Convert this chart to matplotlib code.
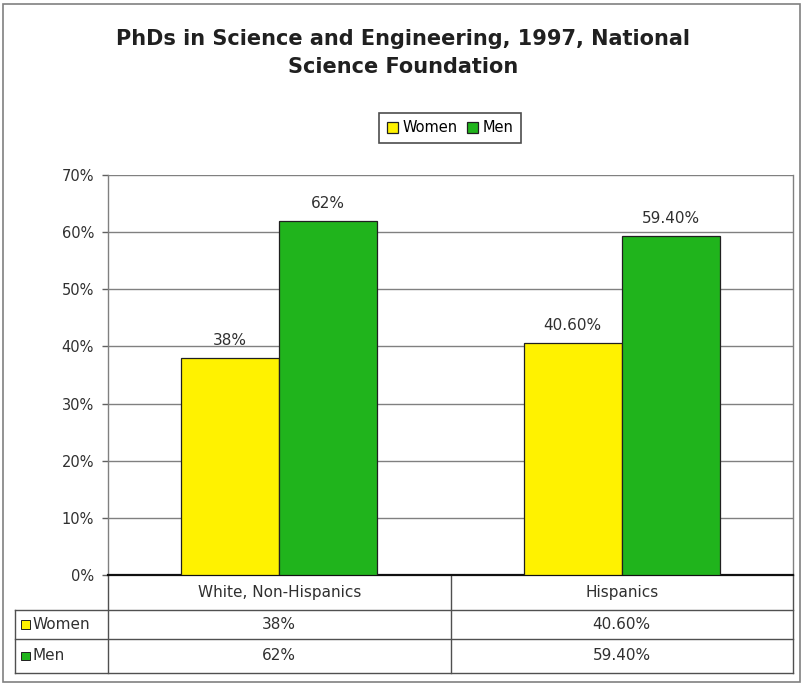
import matplotlib.pyplot as plt
import matplotlib.transforms as mtransforms
from matplotlib.patches import Rectangle
import numpy as np

plt.rcParams['font.family'] = ['DejaVu Sans']

# Data
categories = ["White, Non-Hispanics", "Hispanics"]
series_names = ["Women", "Men"]
women = [38.0, 40.6]
men = [62.0, 59.4]
women_labels = ["38%", "40.60%"]
men_labels = ["62%", "59.40%"]
yticks = [0, 10, 20, 30, 40, 50, 60, 70]

YELLOW = "#FFF200"
GREEN = "#20B41C"
W, H = 807, 685

fig = plt.figure(figsize=(W / 100, H / 100), dpi=100)
fig.patch.set_facecolor("white")

# outer border
fig.patches.append(Rectangle((3 / W, 1 - 682 / H), 797 / W, 678 / H,
                             transform=fig.transFigure, fill=False,
                             edgecolor="#808080", linewidth=1.2))

ax = fig.add_axes([108 / W, 1 - 575 / H, (793 - 108) / W, 400 / H])
x = np.arange(len(categories))
bw = 0.286
ax.bar(x - bw / 2, women, bw, color=YELLOW, edgecolor="#202020", linewidth=0.9,
       label=series_names[0], zorder=3)
ax.bar(x + bw / 2, men, bw, color=GREEN, edgecolor="#202020", linewidth=0.9,
       label=series_names[1], zorder=3)

for xi, v, t in zip(x - bw / 2, women, women_labels):
    ax.text(xi, v + 1.7, t, ha="center", va="bottom", fontsize=11, color="#303030")
for xi, v, t in zip(x + bw / 2, men, men_labels):
    ax.text(xi, v + 1.7, t, ha="center", va="bottom", fontsize=11, color="#303030")

ax.set_xlim(-0.5, len(categories) - 0.5)
ax.set_ylim(0, 70)
ax.set_yticks(yticks)
ax.set_yticklabels([f"{t}%" for t in yticks], fontsize=10.5, color="#303030")
ax.set_xticks([])
ax.yaxis.grid(True, color="#808080", linewidth=1.0, zorder=0)
ax.tick_params(axis="y", length=4, width=1, color="#606060", pad=6)
for s in ["left", "right", "top"]:
    ax.spines[s].set_color("#808080")
    ax.spines[s].set_linewidth(1.0)
ax.spines["bottom"].set_color("#101010")
ax.spines["bottom"].set_linewidth(1.6)
ax.spines["top"].set_visible(False)

# data table under the chart
tr = mtransforms.blended_transform_factory(ax.transData, ax.transAxes)
rows_y = [-0.0875, -0.16, -0.245]  # row bottoms in axes fraction
left_fig = (15 - 108) / (793 - 108)  # left edge of label column in axes fraction
lc = dict(color="#505050", linewidth=1.0, clip_on=False)
for yb in rows_y:
    ax.plot([left_fig, 1], [yb, yb], transform=ax.transAxes, **lc)
ax.plot([left_fig, left_fig], [rows_y[0], rows_y[-1]], transform=ax.transAxes, **lc)
ax.plot([0, 0], [0, rows_y[-1]], transform=ax.transAxes, **lc)
ax.plot([1, 1], [0, rows_y[-1]], transform=ax.transAxes, **lc)
for b in np.arange(0.5, len(categories) - 0.5, 1):
    ax.plot([b, b], [0, rows_y[-1]], transform=tr, **lc)

row_tops = [0] + rows_y[:-1]
for xi, c in enumerate(categories):
    ax.text(xi, (row_tops[0] + rows_y[0]) / 2, c, transform=tr, ha="center",
            va="center", fontsize=11, color="#303030")
for r, (vals, col, name) in enumerate(zip([women_labels, men_labels],
                                           [YELLOW, GREEN], series_names), start=1):
    yc = (row_tops[r] + rows_y[r]) / 2
    for xi, t in enumerate(vals):
        ax.text(xi, yc, t, transform=tr, ha="center", va="center",
                fontsize=11, color="#303030")
    ax.add_patch(Rectangle((left_fig + 0.009, yc - 0.011), 0.013, 0.022,
                           transform=ax.transAxes, facecolor=col,
                           edgecolor="#202020", linewidth=0.7, clip_on=False))
    ax.text(left_fig + 0.025, yc, name, transform=ax.transAxes, ha="left",
            va="center", fontsize=11, color="#303030")

fig.suptitle("PhDs in Science and Engineering, 1997, National\nScience Foundation",
             x=0.5, y=1 - 29 / H, va="top", fontsize=15, fontweight="bold",
             color="#202020", linespacing=1.5)

leg = fig.legend(loc="center", bbox_to_anchor=(450 / W, 1 - 128 / H), ncol=2,
                 frameon=True, fancybox=False, shadow=False, fontsize=10.5,
                 handlelength=0.8, handleheight=0.8, handletextpad=0.3,
                 columnspacing=0.6, borderpad=0.5)
leg.get_frame().set_edgecolor("#202020")
leg.get_frame().set_linewidth(1.2)

fig.savefig("out.png", dpi=100, facecolor="white")
